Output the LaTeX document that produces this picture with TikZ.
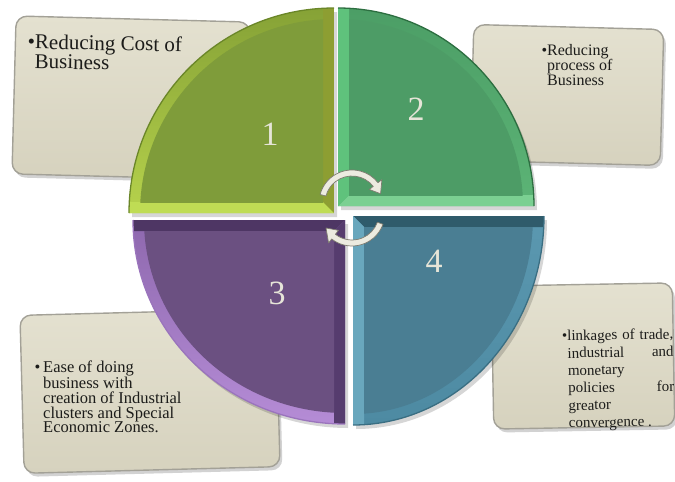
\documentclass[tikz,border=0pt]{standalone}
\usepackage{fontspec}
\setmainfont{Liberation Serif}
\usetikzlibrary{calc,shadows}

% card colours
\definecolor{cardtop}{HTML}{E4E1D0}
\definecolor{cardbot}{HTML}{D6D2BE}
\definecolor{cardline}{HTML}{A3A197}
\definecolor{inktext}{HTML}{1C1C1A}
\definecolor{digit}{HTML}{E6E5D8}
\definecolor{loopfill}{HTML}{ECEBE0}
\definecolor{loopline}{HTML}{7E7C70}
% quadrant 1 (olive)
\definecolor{qArimT}{HTML}{86A236}\definecolor{qArimB}{HTML}{B6D24C}
\definecolor{qAhz}{HTML}{BFDC54}\definecolor{qAvt}{HTML}{8D9E32}
\definecolor{qAin}{HTML}{7F9C3A}\definecolor{qAedge}{HTML}{6A8628}
% quadrant 2 (green)
\definecolor{qBrimT}{HTML}{4C9E66}\definecolor{qBrimB}{HTML}{5CB476}
\definecolor{qBhz}{HTML}{7BD092}\definecolor{qBvt}{HTML}{5FC27C}
\definecolor{qBin}{HTML}{4D9C66}\definecolor{qBedge}{HTML}{2C6E40}
% quadrant 3 (purple)
\definecolor{qCrimT}{HTML}{8E68AE}\definecolor{qCrimB}{HTML}{B58CD6}
\definecolor{qChz}{HTML}{4E3664}\definecolor{qCvt}{HTML}{563C6E}
\definecolor{qCin}{HTML}{6B5081}\definecolor{qCedge}{HTML}{9A74BC}
% quadrant 4 (teal)
\definecolor{qDrimT}{HTML}{5B98B0}\definecolor{qDrimB}{HTML}{4D8AA2}
\definecolor{qDhz}{HTML}{2F5B6B}\definecolor{qDvt}{HTML}{69A7BD}
\definecolor{qDin}{HTML}{4A7E93}\definecolor{qDedge}{HTML}{3A6E82}

\newcommand\bev{11}
% #1 corner, #2/#3 direction of the arc from the corner (x right, y down),
% #4/#5 radii, #6 colour prefix
\newcommand\drawquad[6]{%
  \begin{scope}[shift={#1}]
    \fill[black, opacity=0.16, xshift=3pt, yshift=-4pt, xscale=#2, yscale=#3]
      (0,0) -- (#4,0) arc[start angle=0, end angle=90, x radius=#4, y radius=#5] -- cycle;
    \begin{scope}[xscale=#2, yscale=#3]
      \path[top color=#6rimT, bottom color=#6rimB]
        (0,0) -- (#4,0) arc[start angle=0, end angle=90, x radius=#4, y radius=#5] -- cycle;
      \begin{scope}
        \clip (0,0) -- (#4,0) arc[start angle=0, end angle=90, x radius=#4, y radius=#5] -- cycle;
        \fill[#6hz] (0,0) -- (#4,0) -- (#4,\bev) -- (\bev,\bev) -- cycle;
        \fill[#6vt] (0,0) -- (0,#5) -- (\bev,#5) -- (\bev,\bev) -- cycle;
        \clip (\bev,\bev) rectangle (#4,#5);
        \fill[#6in] (0,0) ellipse[x radius=#4-\bev, y radius=#5-\bev];
      \end{scope}
      \draw[#6edge, line width=1.3pt]
        (#4,0) arc[start angle=0, end angle=90, x radius=#4, y radius=#5];
    \end{scope}
  \end{scope}}

\begin{document}
\begin{tikzpicture}[x=1pt, y=-1pt,
  card/.style={rectangle, rounded corners=11pt, draw=cardline, line width=1.4pt,
    top color=cardtop, bottom color=cardbot, inner sep=0pt,
    drop shadow={shadow xshift=2.5pt, shadow yshift=-3.5pt, opacity=0.35}},
  cardtext/.style={anchor=north west, align=left, inner sep=0pt, text=inktext},
  numlbl/.style={font=\fontsize{34}{34}\selectfont, text=digit, inner sep=0pt},
  loop/.style={fill=loopfill, draw=loopline, line width=0.7pt, line join=round}]

\fill[white] (0,0) rectangle (675,482);
\useasboundingbox (0,0) rectangle (675,482);

% text cards behind the disc
\node[card, minimum width=234pt, minimum height=158pt, rotate=-1.5] (box1) at (131,98) {};
\node[card, minimum width=190pt, minimum height=136pt, rotate=-1.5] (box2) at (567,95) {};
\node[card, minimum width=256pt, minimum height=158pt, rotate=1.5] (box3) at (150,391) {};
\node[card, minimum width=181pt, minimum height=143pt, rotate=1] (box4) at (583,356) {};

% the four bevelled quadrants
\drawquad{(334,213)}{-1}{-1}{205}{205}{qA}
\drawquad{(338,206)}{1}{-1}{196}{198}{qB}
\drawquad{(345,220)}{-1}{1}{212}{204}{qC}
\drawquad{(353,216)}{1}{1}{191}{209}{qD}

% quadrant numbers
\node[numlbl] (n1) at (270,134) {1};
\node[numlbl] (n2) at (416,109) {2};
\node[numlbl] (n3) at (277,293) {3};
\node[numlbl] (n4) at (434,261) {4};

% cycle arrows in the centre
\coordinate (cu) at (352,203);
\coordinate (cl) at (352,213);
\path[loop]
  ($(cu)+(195:33)$) arc[start angle=195, end angle=322, radius=33]
  -- ($(cu)+(322:38)$) -- ($(cu)+(342:30)$) -- ($(cu)+(322:22)$)
  -- ($(cu)+(322:27)$) arc[start angle=322, end angle=195, radius=27] -- cycle;
\path[loop]
  ($(cl)+(20:33)$) arc[start angle=20, end angle=128, radius=33]
  -- ($(cl)+(128:38)$) -- ($(cl)+(150:30)$) -- ($(cl)+(128:22)$)
  -- ($(cl)+(128:27)$) arc[start angle=128, end angle=20, radius=27] -- cycle;

% card texts
\node[cardtext, font=\fontsize{21}{17}\selectfont, rotate=-1] (txt1) at (35,34)
  {\llap{•}Reducing Cost of\\Business};
\node[cardtext, font=\fontsize{16}{15}\selectfont] (txt2) at (547,44)
  {\llap{•}Reducing\\process of\\Business};
\node[cardtext, font=\fontsize{16.5}{14.6}\selectfont] (txt3) at (43,361)
  {\llap{•\,}Ease of doing\\business with\\creation of Industrial\\clusters and Special\\Economic Zones.};
\node[cardtext, font=\fontsize{15}{17.4}\selectfont, rotate=1] (txt4) at (567,330)
  {\llap{•}\makebox[106pt][s]{linkages of trade,}\\\makebox[106pt][s]{industrial and}\\monetary\\\makebox[106pt][s]{policies for}\\greator\\convergence .};
\end{tikzpicture}
\end{document}
